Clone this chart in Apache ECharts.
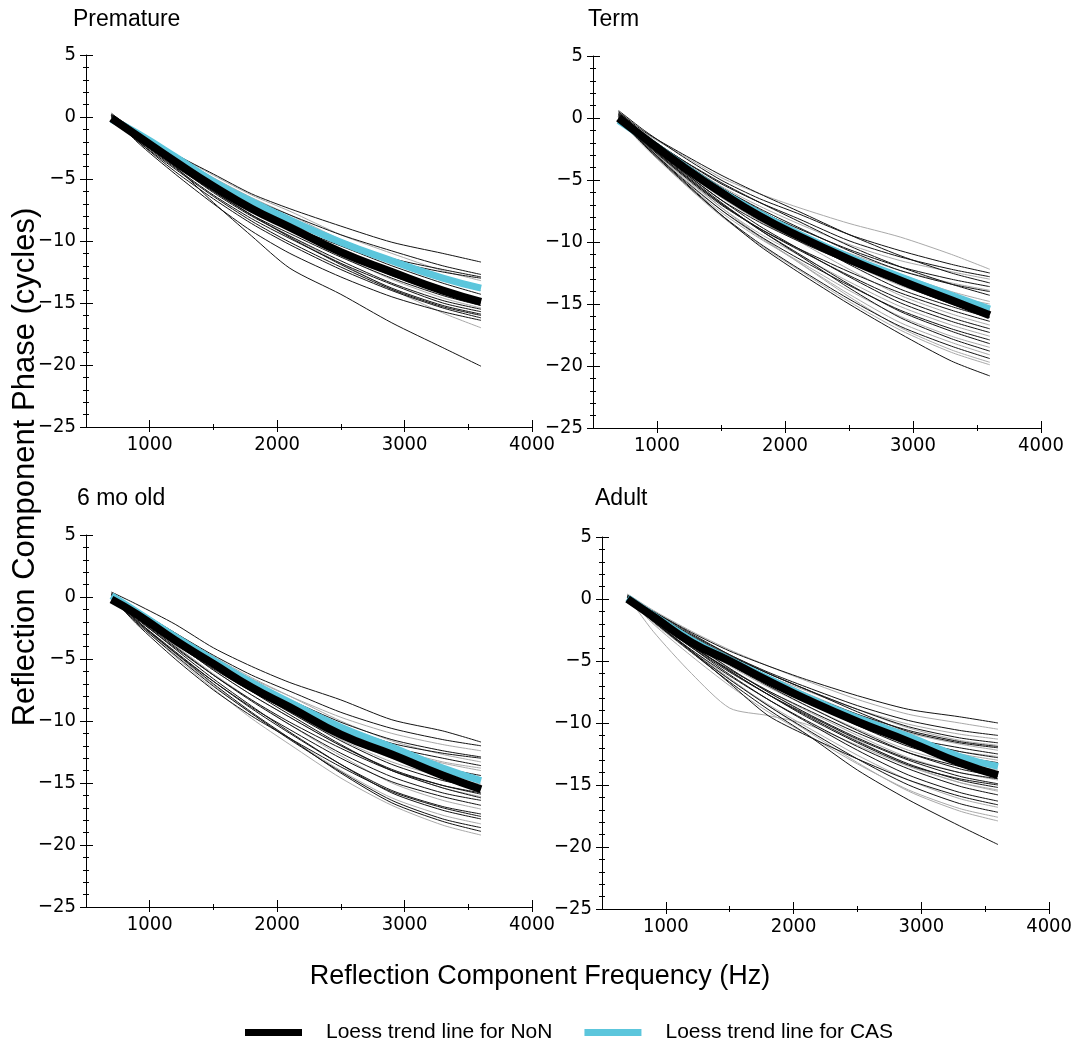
<!DOCTYPE html>
<html>
<head>
<meta charset="utf-8">
<title>Reflection Component Phase by Age Group</title>
<script src="https://cdn.jsdelivr.net/npm/echarts@6/dist/echarts.min.js"></script>
<style>
  html, body { margin: 0; padding: 0; background: #fff; }
  #chart { width: 1075px; height: 1040px; }
</style>
</head>
<body>
<div id="chart"></div>
<script>
// Frequencies (Hz) at which every ear's phase curve is sampled
const freqHz = [700, 900, 1200, 1500, 1800, 2100, 2500, 2900, 3300, 3600];

// ---------- Premature ----------
const prematureNoN = [
  [0.2, -1.1, -3.0, -4.6, -6.2, -7.4, -8.8, -10.1, -11.0, -11.7],
  [0.1, -1.3, -3.2, -5.0, -6.6, -7.9, -9.5, -10.8, -12.0, -12.7],
  [0.0, -1.4, -3.4, -5.3, -6.9, -8.2, -9.9, -11.4, -12.3, -12.9],
  [0.3, -1.3, -3.3, -5.1, -6.7, -8.1, -10.0, -11.6, -12.5, -13.0],
  [0.2, -1.5, -3.6, -5.6, -7.4, -8.8, -10.4, -12.0, -13.4, -14.3],
  [-0.1, -1.6, -3.7, -5.8, -7.5, -8.9, -10.7, -12.4, -13.8, -14.7],
  [0.0, -1.5, -3.6, -5.7, -7.6, -9.1, -11.0, -12.8, -14.2, -15.0],
  [0.1, -1.7, -4.0, -6.0, -7.9, -9.4, -11.3, -13.0, -14.4, -15.2],
  [-0.2, -1.6, -3.9, -6.1, -8.0, -9.6, -11.6, -13.4, -14.8, -15.5],
  [0.0, -1.8, -4.1, -6.3, -8.2, -9.8, -11.8, -13.5, -15.0, -15.7],
  [0.1, -1.7, -3.9, -6.0, -7.9, -9.7, -11.9, -13.8, -15.2, -15.9],
  [0.1, -1.9, -4.2, -6.4, -8.4, -10.1, -12.1, -13.9, -15.3, -16.0],
  [0.0, -1.9, -4.4, -6.6, -8.6, -10.3, -12.3, -14.0, -15.4, -16.2],
  [0.2, -2.0, -4.6, -7.0, -9.2, -11.0, -12.9, -14.5, -15.7, -16.4],
  [0.1, -1.7, -4.0, -6.9, -9.6, -12.2, -14.3, -16.6, -18.6, -20.1]
];
const prematureCAS = [
  [0.1, -1.2, -3.0, -4.7, -6.3, -7.6, -9.5, -11.0, -12.4, -13.2],
  [0.0, -1.4, -3.3, -5.1, -6.8, -8.2, -10.0, -11.6, -12.9, -13.6],
  [0.1, -1.3, -3.1, -4.9, -6.5, -7.9, -9.9, -11.8, -13.2, -14.0],
  [0.0, -1.5, -3.5, -5.4, -7.2, -9.0, -11.2, -13.1, -14.6, -15.4],
  [0.0, -1.6, -3.8, -5.9, -7.9, -9.6, -11.8, -13.9, -15.8, -17.0]
];
const prematureLoessNoN = [-0.1, -1.5, -3.6, -5.6, -7.4, -8.9, -10.9, -12.5, -14.0, -14.9];
const prematureLoessCAS = [-0.2, -1.3, -3.2, -5.2, -6.8, -8.3, -10.1, -11.6, -13.0, -13.8];

// ---------- Term ----------
const termNoN = [
  [0.6, -1.0, -3.1, -5.0, -6.5, -7.7, -9.4, -10.7, -11.8, -12.5],
  [0.4, -1.3, -3.4, -5.3, -6.8, -8.1, -9.9, -11.2, -12.2, -12.8],
  [0.5, -1.1, -2.9, -4.6, -6.1, -7.5, -9.4, -11.1, -12.5, -13.3],
  [0.1, -1.5, -3.7, -5.8, -7.5, -8.9, -10.6, -12.0, -13.0, -13.6],
  [0.5, -1.3, -3.5, -5.6, -7.3, -8.8, -10.7, -12.3, -13.4, -14.0],
  [0.3, -1.4, -3.4, -5.2, -6.8, -8.3, -10.3, -12.0, -13.4, -14.3],
  [0.0, -1.8, -4.3, -6.6, -8.4, -9.9, -11.7, -13.3, -14.5, -15.2],
  [0.4, -1.5, -3.7, -5.7, -7.5, -9.2, -11.3, -13.1, -14.6, -15.5],
  [0.3, -1.5, -3.6, -5.6, -7.4, -9.1, -11.3, -13.4, -15.0, -16.0],
  [0.2, -1.6, -3.9, -6.0, -7.9, -9.6, -11.8, -13.8, -15.2, -16.1],
  [-0.1, -2.0, -4.6, -7.0, -8.9, -10.5, -12.4, -14.1, -15.5, -16.4],
  [0.0, -1.9, -4.5, -6.9, -8.9, -10.6, -12.7, -14.6, -16.1, -17.0],
  [0.2, -1.8, -4.3, -6.6, -8.7, -10.5, -12.8, -14.9, -16.4, -17.3],
  [-0.2, -2.1, -4.9, -7.4, -9.5, -11.3, -13.5, -15.5, -17.0, -17.9],
  [0.1, -1.9, -4.5, -6.9, -9.0, -10.9, -13.4, -15.6, -17.2, -18.2],
  [0.3, -1.8, -4.4, -6.8, -9.0, -11.0, -13.7, -16.1, -17.8, -18.8],
  [0.0, -2.2, -5.1, -7.8, -10.1, -12.1, -14.6, -16.8, -18.4, -19.4],
  [0.1, -2.1, -5.0, -7.8, -10.3, -12.4, -15.0, -17.4, -19.6, -20.8]
];
const termCAS = [
  [0.3, -1.2, -3.0, -4.8, -6.1, -7.2, -8.5, -9.6, -11.0, -12.2],
  [0.2, -1.4, -3.5, -5.5, -7.1, -8.5, -10.2, -11.5, -12.4, -13.0],
  [0.0, -1.7, -4.1, -6.3, -8.0, -9.3, -10.9, -12.3, -13.3, -13.9],
  [0.2, -1.6, -3.8, -5.9, -7.6, -9.1, -11.0, -12.6, -14.0, -14.8],
  [0.0, -1.8, -4.2, -6.4, -8.3, -9.9, -11.7, -13.3, -14.4, -15.0],
  [0.1, -1.7, -4.0, -6.2, -8.1, -9.7, -11.7, -13.5, -14.9, -15.8],
  [0.3, -1.6, -3.9, -6.1, -8.1, -9.9, -12.2, -14.3, -15.8, -16.7],
  [0.1, -2.0, -4.7, -7.2, -9.3, -11.0, -13.2, -15.2, -16.7, -17.6],
  [0.0, -2.2, -5.0, -7.6, -9.7, -11.5, -13.9, -16.0, -17.6, -18.5],
  [0.1, -2.0, -4.8, -7.4, -9.6, -11.6, -14.2, -16.5, -18.1, -19.1],
  [0.2, -1.9, -4.6, -7.2, -9.5, -11.6, -14.4, -16.9, -18.7, -19.7],
  [-0.1, -2.3, -5.2, -7.9, -10.2, -12.2, -14.8, -17.1, -18.9, -19.9]
];
const termLoessNoN = [0.0, -1.6, -3.9, -6.0, -7.9, -9.5, -11.4, -13.1, -14.7, -15.9];
const termLoessCAS = [-0.2, -1.6, -3.8, -5.9, -7.7, -9.3, -11.2, -12.8, -14.3, -15.4];

// ---------- 6 mo old ----------
const sixMonthNoN = [
  [0.4, -0.6, -2.2, -4.1, -5.6, -6.9, -8.3, -9.9, -10.8, -11.7],
  [0.3, -1.0, -2.9, -4.7, -6.3, -7.6, -9.3, -10.6, -11.5, -12.0],
  [0.1, -1.2, -3.2, -5.2, -6.9, -8.3, -10.1, -11.5, -12.4, -12.9],
  [0.2, -1.3, -3.4, -5.3, -7.0, -8.5, -10.4, -11.8, -12.6, -13.0],
  [0.0, -1.4, -3.4, -5.4, -7.1, -8.6, -10.5, -12.1, -13.0, -13.6],
  [-0.1, -1.6, -3.8, -5.8, -7.6, -9.2, -11.2, -12.8, -13.8, -14.4],
  [0.1, -1.3, -3.4, -5.4, -7.3, -9.0, -11.2, -12.9, -14.1, -14.8],
  [0.2, -1.4, -3.5, -5.6, -7.5, -9.3, -11.6, -13.5, -14.8, -15.4],
  [-0.2, -1.8, -4.1, -6.3, -8.3, -10.1, -12.2, -14.0, -15.2, -15.8],
  [0.0, -1.5, -3.7, -5.9, -7.9, -9.7, -12.0, -13.9, -15.2, -15.9],
  [0.3, -1.2, -3.3, -5.5, -7.6, -9.5, -11.9, -14.0, -15.4, -16.2],
  [0.0, -1.7, -4.0, -6.3, -8.4, -10.3, -12.6, -14.5, -15.8, -16.4],
  [-0.1, -2.0, -4.5, -6.8, -8.9, -10.7, -13.0, -14.9, -16.1, -16.8],
  [0.0, -1.9, -4.4, -6.8, -9.0, -11.0, -13.5, -15.6, -16.9, -17.5],
  [0.0, -2.2, -5.0, -7.5, -9.6, -11.4, -13.7, -15.7, -17.0, -17.7],
  [0.2, -1.7, -4.2, -6.6, -8.8, -10.9, -13.5, -15.8, -17.2, -17.9],
  [0.0, -2.1, -4.7, -7.2, -9.4, -11.5, -14.1, -16.4, -17.9, -18.6],
  [0.1, -1.9, -4.5, -7.0, -9.3, -11.4, -14.2, -16.6, -18.1, -18.9]
];
const sixMonthCAS = [
  [0.2, -1.1, -3.1, -5.0, -6.6, -8.0, -9.7, -11.0, -11.9, -12.4],
  [0.3, -1.0, -2.9, -4.8, -6.5, -8.0, -10.0, -11.6, -12.7, -13.3],
  [0.0, -1.3, -3.3, -5.3, -7.0, -8.6, -10.6, -12.2, -13.3, -13.8],
  [0.2, -1.2, -3.3, -5.3, -7.1, -8.7, -10.7, -12.4, -13.4, -14.0],
  [0.1, -1.4, -3.5, -5.6, -7.5, -9.2, -11.3, -13.0, -14.1, -14.6],
  [0.0, -1.5, -3.6, -5.7, -7.6, -9.3, -11.5, -13.3, -14.5, -15.1],
  [0.1, -1.5, -3.7, -5.9, -7.9, -9.7, -12.0, -14.0, -15.4, -16.1],
  [0.1, -1.6, -3.9, -6.2, -8.3, -10.3, -12.8, -15.0, -16.4, -17.1],
  [-0.1, -2.0, -4.6, -7.1, -9.4, -11.4, -14.0, -16.2, -17.6, -18.3],
  [0.0, -2.0, -4.8, -7.4, -9.8, -11.9, -14.6, -16.8, -18.4, -19.2]
];
const sixMonthLoessNoN = [-0.2, -1.4, -3.5, -5.4, -7.3, -8.9, -11.1, -12.7, -14.4, -15.5];
const sixMonthLoessCAS = [0.1, -1.2, -3.2, -5.1, -6.9, -8.5, -10.5, -12.1, -13.8, -14.8];

// ---------- Adult ----------
const adultNoN = [
  [0.2, -1.0, -2.7, -4.2, -5.4, -6.5, -7.8, -8.9, -9.5, -10.0],
  [0.3, -1.1, -2.9, -4.5, -5.9, -7.1, -8.6, -9.8, -10.6, -11.0],
  [0.2, -1.0, -2.8, -4.5, -6.0, -7.3, -8.9, -10.3, -11.2, -11.6],
  [0.0, -1.3, -3.2, -4.9, -6.4, -7.7, -9.3, -10.6, -11.5, -11.9],
  [0.1, -1.1, -3.0, -4.6, -6.0, -7.3, -9.1, -10.7, -11.6, -12.0],
  [0.1, -1.4, -3.4, -5.1, -6.7, -8.1, -9.8, -11.2, -12.0, -12.5],
  [0.2, -1.2, -3.1, -4.9, -6.5, -7.9, -9.7, -11.3, -12.3, -12.8],
  [0.1, -1.3, -3.3, -5.1, -6.8, -8.3, -10.1, -11.7, -12.7, -13.2],
  [0.3, -1.2, -3.2, -5.0, -6.7, -8.2, -10.2, -11.9, -13.0, -13.5],
  [0.0, -1.6, -3.8, -5.7, -7.4, -8.9, -10.8, -12.4, -13.5, -14.0],
  [0.2, -1.3, -3.4, -5.3, -7.0, -8.6, -10.6, -12.4, -13.7, -14.3],
  [0.0, -1.4, -3.5, -5.6, -7.5, -9.2, -11.2, -12.9, -14.0, -14.5],
  [0.1, -1.7, -3.9, -5.9, -7.7, -9.3, -11.3, -13.0, -14.3, -14.9],
  [0.1, -1.5, -3.7, -5.8, -7.7, -9.5, -11.6, -13.4, -14.5, -15.0],
  [-0.1, -1.6, -3.8, -5.8, -7.7, -9.4, -11.5, -13.3, -14.6, -15.2],
  [0.0, -1.8, -4.1, -6.2, -8.1, -9.8, -11.9, -13.7, -15.1, -15.8],
  [0.1, -1.6, -3.9, -6.1, -8.1, -9.9, -12.2, -14.2, -15.6, -16.3],
  [0.1, -1.7, -4.2, -6.8, -9.4, -11.0, -12.9, -14.6, -15.9, -16.6],
  [-0.1, -1.8, -4.2, -6.5, -8.6, -10.5, -12.9, -15.0, -16.5, -17.2],
  [0.0, -1.8, -4.3, -6.7, -8.9, -10.9, -13.8, -16.2, -18.3, -19.8]
];
const adultCAS = [
  [0.4, -0.9, -2.6, -4.1, -5.4, -6.6, -8.1, -9.3, -10.0, -10.5],
  [0.1, -1.2, -3.1, -4.8, -6.2, -7.4, -8.9, -10.1, -10.9, -11.3],
  [0.3, -1.1, -3.0, -4.6, -6.0, -7.3, -8.9, -10.4, -11.4, -11.8],
  [0.3, -1.1, -3.0, -4.7, -6.2, -7.6, -9.3, -10.8, -11.7, -12.2],
  [0.2, -1.3, -3.3, -5.1, -6.7, -8.1, -9.9, -11.4, -12.3, -12.7],
  [0.0, -1.5, -3.5, -5.3, -6.9, -8.3, -10.1, -11.6, -12.5, -13.0],
  [0.3, -1.0, -2.9, -4.7, -6.4, -8.0, -9.9, -11.6, -12.8, -13.3],
  [0.1, -1.4, -3.5, -5.4, -7.1, -8.6, -10.5, -12.2, -13.3, -13.8],
  [0.0, -1.5, -3.6, -5.6, -7.4, -9.0, -11.0, -12.8, -14.0, -14.6],
  [0.2, -2.6, -6.0, -8.8, -9.4, -10.1, -11.8, -13.5, -14.8, -15.4],
  [0.2, -1.4, -3.6, -5.6, -7.5, -9.2, -11.4, -13.4, -14.8, -15.5],
  [0.0, -1.9, -4.3, -6.5, -8.5, -10.3, -12.6, -14.6, -16.1, -16.8],
  [0.1, -2.0, -4.6, -7.0, -9.1, -10.9, -13.3, -15.4, -16.9, -17.6],
  [0.0, -1.7, -4.1, -6.4, -8.6, -10.6, -13.2, -15.5, -17.1, -17.9]
];
const adultLoessNoN = [0.0, -1.4, -3.5, -5.0, -6.6, -8.1, -9.9, -11.5, -13.2, -14.2];
const adultLoessCAS = [0.1, -1.3, -3.3, -4.9, -6.4, -7.9, -9.6, -11.1, -12.7, -13.5];

// Panel titles and tick labels
const panelTitles = ['Premature', 'Term', '6 mo old', 'Adult'];
const xTickLabels = [1000, 2000, 3000, 4000];
const xMinorTicks = [1500, 2500, 3500];
const legendNames = ['Loess trend line for NoN', 'Loess trend line for CAS'];

const panels = [
  { non: prematureNoN, cas: prematureCAS, loessNoN: prematureLoessNoN, loessCAS: prematureLoessCAS },
  { non: termNoN, cas: termCAS, loessNoN: termLoessNoN, loessCAS: termLoessCAS },
  { non: sixMonthNoN, cas: sixMonthCAS, loessNoN: sixMonthLoessNoN, loessCAS: sixMonthLoessCAS },
  { non: adultNoN, cas: adultCAS, loessNoN: adultLoessNoN, loessCAS: adultLoessCAS }
];

// Plot-area placement of each panel (px)
const grids = [
  { left: 86, top: 55, width: 446, height: 372 },
  { left: 593, top: 56, width: 448, height: 372 },
  { left: 86, top: 535, width: 446, height: 372 },
  { left: 602, top: 537, width: 448, height: 372 }
];
const titlePos = [
  { left: 73, top: 8 }, { left: 588, top: 8 },
  { left: 77, top: 487 }, { left: 595, top: 487 }
];

const SANS = '"Liberation Sans", Arial, Helvetica, sans-serif';
const TICKFONT = '"DejaVu Sans Condensed", "DejaVu Sans", sans-serif';
const BLACK = '#141414';
const GREY = '#a9a9a9';
const CYAN = '#5cc6dc';

const xAxes = [], yAxes = [], series = [];

grids.forEach((g, i) => {
  const baseX = {
    gridIndex: i, type: 'value', min: 500, max: 4000, position: 'bottom',
    splitLine: { show: false }
  };
  const noLine = { show: false, onZero: false };
  // labelled axis with the outer half of the major ticks
  xAxes.push(Object.assign({}, baseX, {
    axisLine: { show: true, onZero: false, lineStyle: { color: '#000', width: 1 } },
    axisTick: { show: true, inside: false, length: 5, customValues: xTickLabels, lineStyle: { color: '#000' } },
    axisLabel: {
      show: true, customValues: xTickLabels, margin: 8, color: '#000', fontSize: 20, fontFamily: TICKFONT,
      formatter: v => String(v)
    }
  }));
  // inner half of the major ticks
  xAxes.push(Object.assign({}, baseX, {
    axisLine: noLine,
    axisTick: { show: true, inside: true, length: 7, customValues: xTickLabels, lineStyle: { color: '#000' } },
    axisLabel: { show: false }
  }));
  // minor ticks, both sides
  xAxes.push(Object.assign({}, baseX, {
    axisLine: noLine,
    axisTick: { show: true, inside: false, length: 3, customValues: xMinorTicks, lineStyle: { color: '#000' } },
    axisLabel: { show: false }
  }));
  xAxes.push(Object.assign({}, baseX, {
    axisLine: noLine,
    axisTick: { show: true, inside: true, length: 3, customValues: xMinorTicks, lineStyle: { color: '#000' } },
    axisLabel: { show: false }
  }));

  const baseY = {
    gridIndex: i, type: 'value', min: -25, max: 5, interval: 5, position: 'left',
    splitLine: { show: false }, minorSplitLine: { show: false }
  };
  yAxes.push(Object.assign({}, baseY, {
    axisLine: { show: true, onZero: false, lineStyle: { color: '#000', width: 1 } },
    axisTick: { show: true, inside: false, length: 6, lineStyle: { color: '#000' } },
    minorTick: { show: true, splitNumber: 5, length: 3, lineStyle: { color: '#000' } },
    axisLabel: {
      show: true, margin: 10, color: '#000', fontSize: 20, fontFamily: TICKFONT,
      formatter: v => String(v).replace('-', '\u2212')
    }
  }));
  yAxes.push(Object.assign({}, baseY, {
    axisLine: { show: false, onZero: false },
    axisTick: { show: true, inside: true, length: 7, lineStyle: { color: '#000' } },
    minorTick: { show: true, splitNumber: 5, length: 3, lineStyle: { color: '#000' } },
    axisLabel: { show: false }
  }));
});

const toPoints = vals => freqHz.map((f, k) => [f, vals[k]]);

panels.forEach((p, i) => {
  const xi = i * 4, yi = i * 2;
  const thin = (vals, color) => ({
    type: 'line', xAxisIndex: xi, yAxisIndex: yi, data: toPoints(vals),
    showSymbol: false, symbol: 'none', silent: true, smooth: 0.25,
    lineStyle: { color, width: 1 }, z: 2
  });
  p.cas.forEach(v => series.push(thin(v, GREY)));
  p.non.forEach(v => series.push(thin(v, BLACK)));
  series.push({
    name: legendNames[1], type: 'line', xAxisIndex: xi, yAxisIndex: yi,
    data: toPoints(p.loessCAS), showSymbol: false, symbol: 'none', smooth: true,
    color: CYAN, itemStyle: { color: CYAN }, lineStyle: { color: CYAN, width: 7 }, z: 3
  });
  series.push({
    name: legendNames[0], type: 'line', xAxisIndex: xi, yAxisIndex: yi,
    data: toPoints(p.loessNoN), showSymbol: false, symbol: 'none', smooth: true,
    color: '#000', itemStyle: { color: '#000' }, lineStyle: { color: '#000', width: 8 }, z: 4
  });
});

const option = {
  animation: false,
  backgroundColor: '#fff',
  title: panelTitles.map((t, i) => ({
    text: t, left: titlePos[i].left, top: titlePos[i].top, padding: 0,
    textStyle: { fontSize: 23, fontWeight: 'normal', color: '#000', fontFamily: SANS }
  })),
  grid: grids.map(g => Object.assign({ containLabel: false }, g)),
  xAxis: xAxes,
  yAxis: yAxes,
  legend: {
    left: 240, top: 1017, itemWidth: 57, itemHeight: 7, itemGap: 32,
    selectedMode: false,
    data: [
      { name: legendNames[0], icon: 'rect', itemStyle: { color: '#000' } },
      { name: legendNames[1], icon: 'rect', itemStyle: { color: CYAN } }
    ],
    textStyle: { fontSize: 21, color: '#000', fontFamily: SANS, padding: [0, 0, 0, 19] }
  },
  graphic: [
    {
      type: 'text', x: 25, y: 467, rotation: Math.PI / 2,
      style: { text: 'Reflection Component Phase (cycles)', font: '31px ' + SANS, fill: '#000', align: 'center', verticalAlign: 'middle' }
    },
    {
      type: 'text', x: 540, y: 977,
      style: { text: 'Reflection Component Frequency (Hz)', font: '27px ' + SANS, fill: '#000', align: 'center', verticalAlign: 'middle' }
    }
  ],
  series
};

const chart = echarts.init(document.getElementById('chart'), null, { renderer: 'canvas' });
chart.setOption(option);
</script>
</body>
</html>
